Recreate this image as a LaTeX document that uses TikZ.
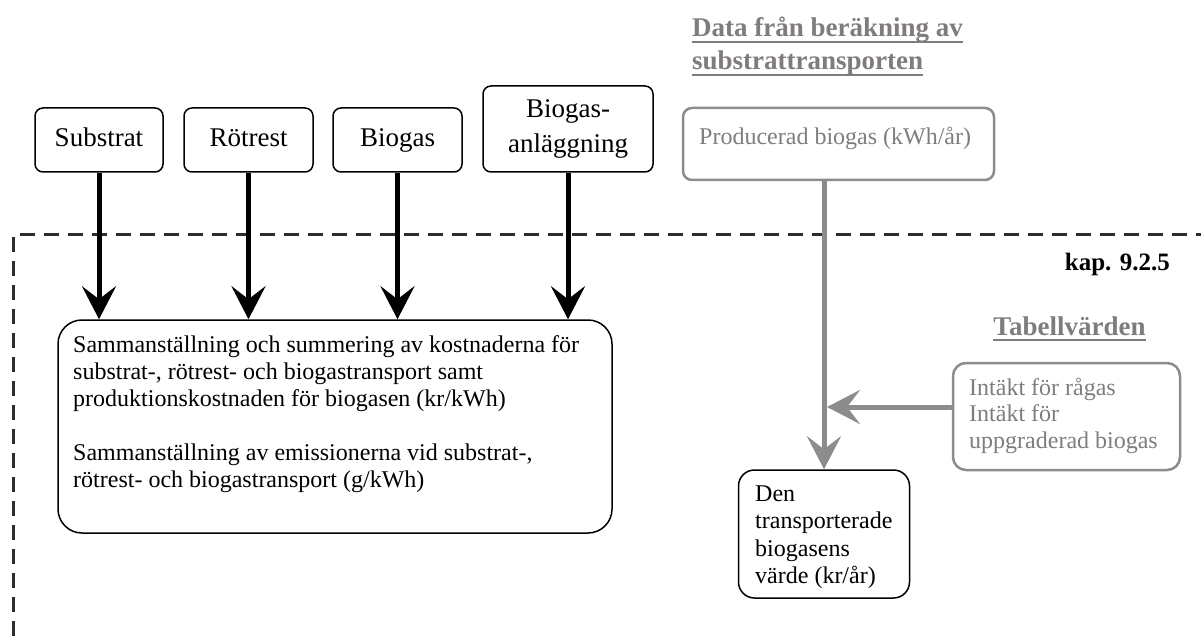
\documentclass[tikz,border=0pt]{standalone}
\usepackage{fontspec}
\setmainfont{Liberation Serif}
\usetikzlibrary{arrows.meta}
\definecolor{lg}{RGB}{140,140,140}
\definecolor{tg}{RGB}{128,124,124}
\definecolor{dk}{RGB}{45,45,45}
\newcommand{\mlines}[1]{\begin{tabular}[t]{@{}l@{}}#1\end{tabular}}
\begin{document}
\begin{tikzpicture}[x=1pt,y=-1pt,
  lbl/.style={draw=black, line width=1.5pt, rounded corners=8pt, font=\fontsize{27}{35}\selectfont, align=center, inner sep=0pt},
  one/.style={text height=19pt, text depth=6pt},
  bbox/.style={draw=black, line width=1.5pt, inner sep=0pt},
  gbox/.style={draw=lg, line width=2.5pt, inner sep=0pt},
  body/.style={font=\fontsize{24}{27}\selectfont, inner sep=0pt, anchor=base west},
  gbody/.style={body, text=tg},
  ttl/.style={font=\bfseries\fontsize{27}{32}\selectfont, text=tg, inner sep=0pt},
  uline/.style={draw=tg, line width=2pt},
  blk/.style={draw=black, line width=5pt, -{Stealth[length=33pt, width=34pt, inset=13pt]}},
  garr/.style={draw=lg, line width=5pt, -{Stealth[length=33pt, width=34pt, inset=13pt]}, fill=lg},
  frame/.style={draw=dk, line width=3pt, dash pattern=on 15pt off 9pt}
]
\useasboundingbox (0,0) rectangle (1201,636);

% dashed frame
\draw[frame] (13,636) -- (13,235) -- (1201,235);

% top boxes
\node[lbl, one, minimum width=128pt, minimum height=64pt] (sub) at (99,140) {Substrat};
\node[lbl, one, minimum width=129pt, minimum height=64pt] (rot) at (248.5,140) {Rötrest};
\node[lbl, one, minimum width=129pt, minimum height=64pt] (bio) at (397.5,140) {Biogas};
\node[lbl, minimum width=170pt, minimum height=86pt] (anl) at (568,129) {Biogas-\\anläggning};

% big box
\node[bbox, rounded corners=24pt, minimum width=554pt, minimum height=213pt] (big) at (335,426.5) {};
\node[body] (bigtxt) at (73,352) {\mlines{Sammanställning och summering av kostnaderna för\\
substrat-, rötrest- och biogastransport samt\\
produktionskostnaden för biogasen (kr/kWh)\\[27pt]
Sammanställning av emissionerna vid substrat-,\\
rötrest- och biogastransport (g/kWh)}};

% black arrows
\draw[blk] (sub.south) -- (sub.south |- big.north);
\draw[blk] (rot.south) -- (rot.south |- big.north);
\draw[blk] (bio.south) -- (bio.south |- big.north);
\draw[blk] (anl.south) -- (anl.south |- big.north);

% title data
\node[ttl, anchor=base west] (t1) at (692,37) {Data från beräkning av};
\node[ttl, anchor=base west] (t2) at (692,70) {substrattransporten};
\draw[uline] ([yshift=-5pt]t1.base west) -- ([yshift=-5pt]t1.base east);
\draw[uline] ([yshift=-5pt]t2.base west) -- ([yshift=-5pt]t2.base east);

% producerad biogas
\node[gbox, rounded corners=9pt, minimum width=311pt, minimum height=72pt] (prod) at (838.5,144) {};
\node[gbody] (prodtxt) at (699,145) {Producerad biogas (kWh/år)};

% kap
\node[font=\bfseries\fontsize{25}{30}\selectfont, inner sep=0pt, anchor=base east] (kap) at (1170,270) {kap. 9.2.5};

% tabellvarden
\node[ttl, anchor=base] (tab) at (1069.5,335) {Tabellvärden};
\draw[uline] ([yshift=-5pt]tab.base west) -- ([yshift=-5pt]tab.base east);

% intakt box
\node[gbox, rounded corners=13pt, minimum width=227pt, minimum height=107pt] (int) at (1066.5,416.5) {};
\node[gbody, font=\fontsize{24}{26.5}\selectfont] (inttxt) at (969,395) {\mlines{Intäkt för rågas\\Intäkt för\\uppgraderad biogas}};

% den box
\node[bbox, rounded corners=16pt, minimum width=171pt, minimum height=128pt] (den) at (824,534) {};
\node[body, font=\fontsize{24}{27.5}\selectfont] (dentxt) at (755,501) {\mlines{Den\\transporterade\\biogasens\\värde (kr/år)}};

% gray arrows
\coordinate (j) at (827,407);
\draw[garr] (prod.south -| den.north) -- (den.north);
\draw[garr] (int.west |- j) -- (j);
\end{tikzpicture}
\end{document}
